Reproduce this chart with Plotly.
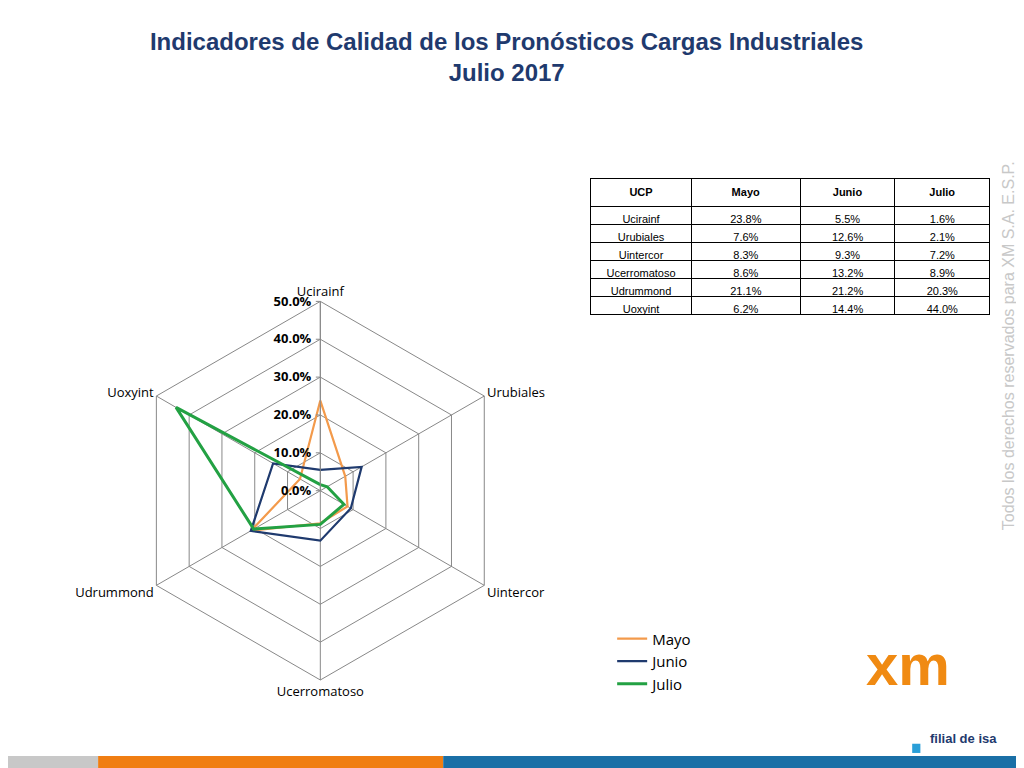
import plotly.graph_objects as go

ucp = ["Ucirainf", "Urubiales", "Uintercor", "Ucerromatoso", "Udrummond", "Uoxyint"]
mayo = [0.238, 0.076, 0.083, 0.086, 0.211, 0.062]
junio = [0.055, 0.126, 0.093, 0.132, 0.212, 0.144]
julio = [0.016, 0.021, 0.072, 0.089, 0.203, 0.440]
series = [("Mayo", mayo, "#F39A4B"), ("Junio", junio, "#1F3A6E"), ("Julio", julio, "#23A143")]

fig = go.Figure()
for name, vals, col in series:
    fig.add_trace(go.Scatterpolar(
        r=vals + vals[:1], theta=ucp + ucp[:1], name=name, mode="lines",
        line=dict(color=col, width=3 if name == "Julio" else 2.2)))

fmt = lambda v: f"{v*100:.1f}%"
fig.add_trace(go.Table(
    domain=dict(x=[0.569, 0.959], y=[0.55, 0.778]),
    columnwidth=[100, 108, 94, 94],
    header=dict(values=["<b>UCP</b>", "<b>Mayo</b>", "<b>Junio</b>", "<b>Julio</b>"],
                fill_color="white", line_color="black", height=18,
                font=dict(family="Liberation Sans", size=11, color="black")),
    cells=dict(values=[ucp, [fmt(v) for v in mayo], [fmt(v) for v in junio], [fmt(v) for v in julio]],
               fill_color="white", line_color="black", height=18,
               font=dict(family="Liberation Sans", size=11, color="black"))))

fig.update_layout(
    width=1024, height=768, margin=dict(l=0, r=0, t=0, b=0),
    paper_bgcolor="white", plot_bgcolor="white",
    title=dict(text="<b>Indicadores de Calidad de los Pronósticos Cargas Industriales<br>Julio 2017</b>",
               x=0.487, y=0.945, xanchor="center",
               font=dict(family="Liberation Sans", size=24, color="#1F3A6E")),
    polar=dict(
        domain=dict(x=[0.112, 0.498], y=[0.125, 0.618]),
        gridshape="linear", bgcolor="white",
        radialaxis=dict(range=[0, 0.5], dtick=0.1, tickformat=".1%", angle=90, tickangle=90,
                        side="counterclockwise",
                        showline=True, linecolor="#888", gridcolor="#888", ticks="outside",
                        ticklen=4, tickcolor="#888",
                        tickfont=dict(family="Open Sans", size=13, color="black", weight="bold")),
        angularaxis=dict(rotation=90, direction="clockwise", gridcolor="#888", linecolor="#888",
                         tickfont=dict(family="Open Sans", size=13, color="black"))),
    legend=dict(x=0.59, y=0.2, xanchor="left", yanchor="top",
                font=dict(family="Open Sans", size=15, color="black"), tracegroupgap=8),
    shapes=[
        dict(type="rect", xref="paper", yref="paper", x0=0, x1=0.088, y0=0, y1=0.026, fillcolor="#C8C8C8", line_width=0),
        dict(type="rect", xref="paper", yref="paper", x0=0.088, x1=0.425, y0=0, y1=0.026, fillcolor="#F07E12", line_width=0),
        dict(type="rect", xref="paper", yref="paper", x0=0.425, x1=1, y0=0, y1=0.026, fillcolor="#1A6FA6", line_width=0),
        dict(type="rect", xref="paper", yref="paper", x0=0.883, x1=0.891, y0=0.03, y1=0.042, fillcolor="#2A9FD8", line_width=0),
    ],
    annotations=[
        dict(text="Todos los derechos reservados para XM S.A. E.S.P.", textangle=-90,
             x=0.988, y=0.56, xref="paper", yref="paper", showarrow=False,
             font=dict(family="Liberation Sans", size=16, color="#C8C8C8")),
        dict(text="<b>xm</b>", x=0.922, y=0.1, xref="paper", yref="paper", showarrow=False,
             font=dict(family="Liberation Sans", size=58, color="#F08A12")),
        dict(text="<b>filial de isa</b>", x=0.898, y=0.036, xref="paper", yref="paper", showarrow=False,
             xanchor="left", font=dict(family="Liberation Sans", size=13, color="#1F3A6E")),
    ])

fig.write_html("out.html")
